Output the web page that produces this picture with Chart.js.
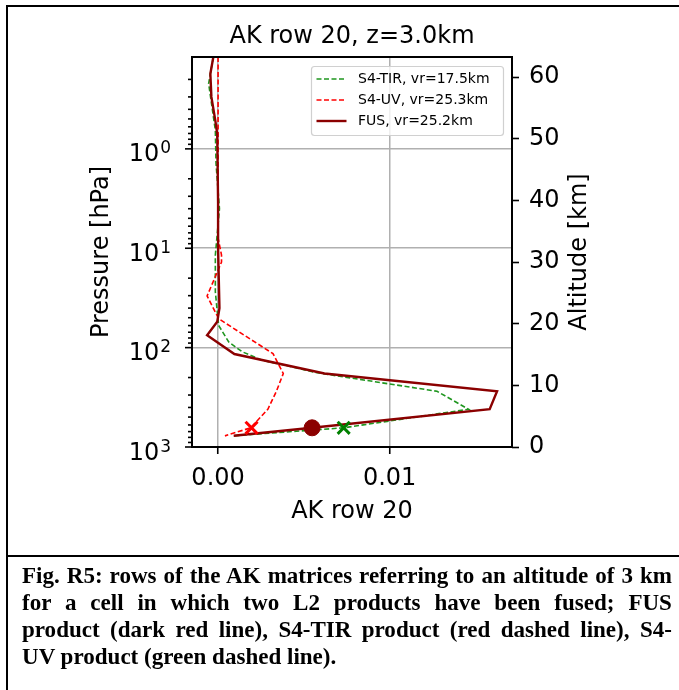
<!DOCTYPE html>
<html>
<head>
<meta charset="utf-8">
<title>AK row 20, z=3.0km</title>
<script src="https://cdn.jsdelivr.net/npm/chart.js"></script>
<style>
  body { margin: 0; background: #fff; }
  #wrap { position: relative; width: 679px; height: 690px; overflow: hidden; }
  #chart { position: absolute; left: 0; top: 0; }
  #frame { position: absolute; left: 6px; top: 5px; width: 720px; height: 720px; border-left: 2px solid #000; border-top: 2px solid #000; }
  #sep { position: absolute; left: 6px; top: 555px; width: 720px; height: 2px; background: #000; }
  #caption { position: absolute; left: 22px; top: 562px; width: 677px;
             transform: scaleX(0.96); transform-origin: 0 0;
             font: bold 24px/27px "Liberation Serif", "Times New Roman", serif; color: #000; }
  #caption div { text-align: justify; text-align-last: justify; white-space: nowrap; }
  #caption div.last { text-align-last: left; }
</style>
</head>
<body>
<div id="wrap">
  <canvas id="chart" width="679" height="556"></canvas>
  <div id="frame"></div>
  <div id="sep"></div>
  <div id="caption">
    <div>Fig. R5: rows of the AK matrices referring to an altitude of 3 km</div>
    <div>for a cell in which two L2 products have been fused; FUS</div>
    <div>product (dark red line), S4-TIR product (red dashed line), S4-</div>
    <div class="last">UV product (green dashed line).</div>
  </div>
</div>

<script>
  // pressure levels [hPa] and AK row 20 values
  const fusPres = [0.1, 0.176, 0.30, 0.52, 0.71, 3.5, 10, 40, 55, 75, 116, 182, 275, 417, 641, 771];
  const fusAk   = [-0.0002, -0.00045, -0.00039, -0.00016, -0.00005, 0.0, 0.0, 0.00008, -0.00005, -0.00064, 0.00095, 0.0062, 0.01626, 0.01583, 0.00548, 0.00091];

  const tirPres = [0.1, 0.22, 0.65, 1.4, 4.0, 11.8, 27.4, 59.7, 87.7, 110, 134, 156, 178, 275, 417, 641, 771];
  const tirAk   = [-0.0002, -0.00055, -0.00016, -0.00012, 0.00008, -0.00016, -0.00016, 0.00003, 0.00062, 0.0014, 0.00256, 0.00431, 0.00567, 0.01276, 0.0146, 0.00732, 0.00091];

  const uvPres = [0.1, 7.9, 11.7, 13.8, 30.2, 51.3, 115, 182, 275, 417, 641, 773];
  const uvAk   = [0.0, 0.0, 0.0002, 0.0002, -0.00064, 0.00004, 0.0032, 0.0038, 0.0034, 0.0029, 0.0019, 0.0004];

  // diagonal element (z = 3 km level) of each product
  const diagPres = 641;
  const diagTir = 0.00732, diagUv = 0.00195, diagFus = 0.00548;

  // axes
  const xRange = [-0.00152, 0.01713];
  const xTicks = [0, 0.01];
  const pRange = [0.119, 1000];
  const altRange = [0, 63.25];
  const altTicks = [0, 10, 20, 30, 40, 50, 60];

  const FONT = '"DejaVu Sans", sans-serif';
  const toXY = (ak, pres) => ak.map((v, i) => ({ x: v, y: pres[i] }));
  const isDecade = v => Math.abs(Math.log10(v) - Math.round(Math.log10(v))) < 1e-6;

  // title, axis labels, spines, pressure ticks (10^n labels) and the inset legend
  const figText = {
    id: 'figText',
    afterDraw(chart) {
      const ctx = chart.ctx, a = chart.chartArea;
      const cx = (a.left + a.right) / 2, cy = (a.top + a.bottom) / 2;
      ctx.save();

      ctx.strokeStyle = '#000';
      ctx.fillStyle = '#000';
      ctx.textBaseline = 'alphabetic';
      const ys = chart.scales.y;
      ys.ticks.forEach(t => {
        const py = ys.getPixelForValue(t.value);
        const major = isDecade(t.value);
        ctx.lineWidth = 1.6;
        ctx.beginPath();
        ctx.moveTo(a.left, py);
        ctx.lineTo(a.left - (major ? 7 : 4), py);
        ctx.stroke();
        if (major) {
          const e = String(Math.round(Math.log10(t.value)));
          ctx.font = '17px ' + FONT;
          ctx.textAlign = 'right';
          const ew = ctx.measureText(e).width;
          ctx.fillText(e, 171, py + 4.5);
          ctx.font = '24px ' + FONT;
          ctx.fillText('10', 171 - ew - 1, py + 12.5);
        }
      });
      ctx.lineWidth = 2;
      ctx.strokeRect(a.left, a.top, a.right - a.left, a.bottom - a.top);

      ctx.font = '24px ' + FONT;
      ctx.textAlign = 'center';
      ctx.textBaseline = 'middle';
      ctx.fillText('AK row 20, z=3.0km', cx, 37);
      ctx.fillText('AK row 20', cx, 512);
      ctx.save();
      ctx.translate(102, cy);
      ctx.rotate(-Math.PI / 2);
      ctx.fillText('Pressure [hPa]', 0, 0);
      ctx.restore();
      ctx.save();
      ctx.translate(580, cy);
      ctx.rotate(-Math.PI / 2);
      ctx.fillText('Altitude [km]', 0, 0);
      ctx.restore();

      // legend
      const entries = chart.data.datasets.filter(d => d.label).sort((p, q) => q.order - p.order);
      const lw = 192, lh = 69, lx = a.right - 8.5 - lw, ly = a.top + 9.5;
      ctx.fillStyle = 'rgba(255,255,255,0.8)';
      ctx.strokeStyle = '#d0d0d0';
      ctx.lineWidth = 1.2;
      ctx.beginPath();
      ctx.roundRect(lx, ly, lw, lh, 3);
      ctx.fill();
      ctx.stroke();
      ctx.font = '14px ' + FONT;
      ctx.textAlign = 'left';
      entries.forEach((d, i) => {
        const yy = ly + 12.5 + i * 21;
        ctx.strokeStyle = d.borderColor;
        ctx.lineWidth = d.borderWidth;
        ctx.setLineDash(d.borderDash || []);
        ctx.beginPath();
        ctx.moveTo(lx + 5, yy);
        ctx.lineTo(lx + 35, yy);
        ctx.stroke();
        ctx.setLineDash([]);
        ctx.fillStyle = '#000';
        ctx.fillText(d.label, lx + 46.5, yy);
      });
      ctx.restore();
    }
  };

  const ctx = document.getElementById('chart').getContext('2d');
  new Chart(ctx, {
    type: 'scatter',
    data: {
      datasets: [
        {
          label: 'S4-TIR, vr=17.5km',
          data: toXY(tirAk, tirPres),
          showLine: true, pointRadius: 0, order: 3,
          borderColor: '#1f961f', borderWidth: 1.6, borderDash: [5, 2.5]
        },
        {
          label: 'S4-UV, vr=25.3km',
          data: toXY(uvAk, uvPres),
          showLine: true, pointRadius: 0, order: 2,
          borderColor: '#ff0000', borderWidth: 1.6, borderDash: [5, 2.5]
        },
        {
          label: 'FUS, vr=25.2km',
          data: toXY(fusAk, fusPres),
          showLine: true, pointRadius: 0, order: 1,
          borderColor: '#8b0000', borderWidth: 2.4
        },
        {
          data: [{ x: diagUv, y: diagPres }],
          pointStyle: 'crossRot', pointRadius: 8.5, order: 0,
          borderColor: '#ff0000', borderWidth: 3
        },
        {
          data: [{ x: diagTir, y: diagPres }],
          pointStyle: 'crossRot', pointRadius: 8.5, order: 0,
          borderColor: '#008000', borderWidth: 3
        },
        {
          data: [{ x: diagFus, y: diagPres }],
          pointStyle: 'circle', pointRadius: 8, order: 0,
          backgroundColor: '#8b0000', borderColor: '#8b0000', borderWidth: 1
        }
      ]
    },
    options: {
      responsive: false,
      animation: false,
      layout: { padding: { top: 57, left: 0, right: 0, bottom: 0 } },
      plugins: {
        legend: { display: false },
        title: { display: false },
        tooltip: { enabled: false }
      },
      scales: {
        x: {
          type: 'linear',
          min: xRange[0], max: xRange[1],
          afterBuildTicks: s => { s.ticks = xTicks.map(v => ({ value: v })); },
          afterFit: s => { s.height = 109; },
          ticks: {
            font: { family: FONT, size: 24 }, color: '#000', padding: 10,
            callback: v => v.toFixed(2)
          },
          grid: { color: '#b0b0b0', lineWidth: 1.5, drawTicks: true, tickLength: 7, tickColor: '#000', tickWidth: 1.6 },
          border: { display: false }
        },
        y: {
          type: 'logarithmic',
          position: 'left',
          reverse: true,
          min: pRange[0], max: pRange[1],
          afterBuildTicks: s => {
            s.ticks = s.ticks.filter(t => {
              const e = Math.floor(Math.log10(t.value) + 1e-9);
              const m = t.value / Math.pow(10, e);
              return Math.abs(m - Math.round(m)) < 1e-6 && t.value >= pRange[0] && t.value <= pRange[1];
            });
          },
          afterFit: s => { s.width = 192; },
          ticks: { autoSkip: false, display: false },
          grid: {
            color: c => (c.tick && isDecade(c.tick.value)) ? '#b0b0b0' : 'rgba(0,0,0,0)',
            lineWidth: 1.5, drawTicks: false
          },
          border: { display: false }
        },
        y2: {
          type: 'linear',
          position: 'right',
          min: altRange[0], max: altRange[1],
          afterBuildTicks: s => { s.ticks = altTicks.map(v => ({ value: v })); },
          afterFit: s => { s.width = 167; },
          ticks: { font: { family: FONT, size: 24 }, color: '#000', padding: 10 },
          grid: { drawOnChartArea: false, drawTicks: true, tickLength: 7, tickColor: '#000', tickWidth: 1.6 },
          border: { display: false }
        }
      }
    },
    plugins: [figText]
  });
</script>
</body>
</html>
